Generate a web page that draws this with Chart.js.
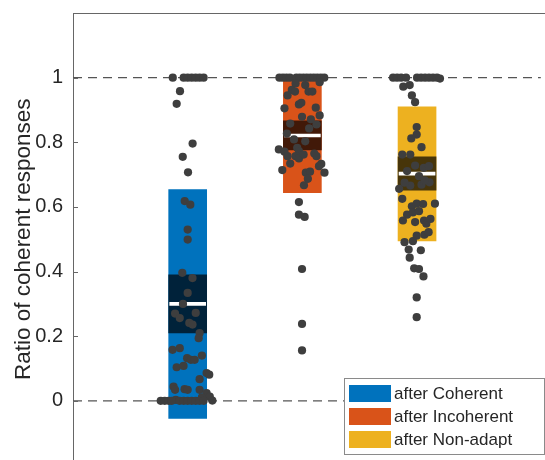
<!DOCTYPE html>
<html>
<head>
<meta charset="utf-8">
<script src="https://cdn.jsdelivr.net/npm/chart.js@4.4.1/dist/chart.umd.min.js"></script>
<style>
  html, body { margin: 0; padding: 0; overflow: hidden; background: #fff; }
  #wrap { position: relative; width: 545px; height: 470px; }
</style>
</head>
<body>
<div id="wrap"><canvas id="chart" width="545" height="470"></canvas></div>
<script>
// groups
const groupNames = ['after Coherent', 'after Incoherent', 'after Non-adapt'];
const groupPos = [1, 2, 3];
const boxColors = ['#0072BD', '#D95319', '#EDB120'];
const bandColors = ['#00223a', '#411908', '#47350a'];

// box = outer range, band = inner dark range, white line = median
const boxLow = [-0.054, 0.644, 0.495];
const boxHigh = [0.654, 1.0, 0.910];
const bandLow = [0.210, 0.776, 0.652];
const bandHigh = [0.390, 0.866, 0.755];
const medians = [0.300, 0.821, 0.703];

const refLevels = [0, 1];
const yTicks = [0, 0.2, 0.4, 0.6, 0.8, 1];
const xMin = 0, xMax = 4.08;

// individual responses (y) and horizontal jitter (x offset from group position)
const cohY = [1, 1, 1, 1, 1, 1, 1,
  0.958, 0.919, 0.796, 0.755, 0.707, 0.618, 0.607, 0.530, 0.499, 0.396, 0.380, 0.334, 0.300,
  0.270, 0.256, 0.272, 0.241, 0.236, 0.210, 0.194, 0.158, 0.163, 0.132, 0.127, 0.127, 0.140,
  0.104, 0.108, 0.067, 0.086, 0.081, 0.044, 0.034, 0.036, 0.034, 0.034, 0.024, 0.013, 0.001, 0.011, 0.003,
  0, 0, 0, 0, 0, 0, 0, 0, 0, 0, 0];
const cohJitter = [-0.130, -0.035, 0, 0.035, 0.070, 0.104, 0.139,
  -0.067, -0.096, 0.043, -0.043, 0.003, -0.026, 0.023, 0, 0, -0.047, 0.042, 0, -0.041,
  -0.110, -0.069, 0.070, 0.014, 0.042, 0.104, 0.096, -0.132, -0.069, -0.005, 0.028, 0.061, 0.124,
  -0.096, -0.036, 0.104, 0.165, 0.188, -0.123, -0.110, -0.027, 0, 0.104, 0.165, 0.193, 0.215, 0.124, -0.104,
  -0.235, -0.200, -0.165, -0.139, -0.070, -0.035, 0, 0.035, 0.070, 0.104, 0.139];

const incY = [1, 1, 1, 1, 1, 1, 1, 1, 1, 1, 1, 1, 1,
  0.982, 0.977, 0.986, 0.962, 0.957, 0.957, 0.957, 0.945,
  0.917, 0.922, 0.905, 0.907, 0.883, 0.879, 0.871, 0.858,
  0.843, 0.855, 0.827, 0.809, 0.803, 0.778, 0.771, 0.757,
  0.734, 0.783, 0.773, 0.757, 0.750, 0.762, 0.765, 0.757,
  0.733, 0.726, 0.706, 0.714, 0.706, 0.709, 0.687, 0.667,
  0.615, 0.576, 0.569, 0.408, 0.238, 0.156];
const incJitter = [-0.200, -0.169, -0.139, -0.109, -0.052, -0.022, 0.009, 0.039, 0.070, 0.100, 0.130, 0.161, 0.191,
  -0.059, 0.025, 0.151, -0.092, -0.064, 0.054, 0.087, -0.129,
  -0.030, -0.009, -0.156, 0.117, 0.151, -0.003, 0.074, -0.106,
  0.059, 0.123, -0.135, -0.073, 0.025, -0.205, -0.156, -0.129,
  -0.106, -0.045, -0.030, -0.059, -0.030, 0.011, 0.104, 0.123,
  0.165, 0.145, 0.193, -0.175, 0.030, 0.067, 0.048, 0.014,
  -0.030, -0.030, 0.020, -0.003, -0.003, -0.003];

const nonY = [1, 1, 1, 1, 1, 1, 1, 1, 1, 1, 0.997,
  0.972, 0.977, 0.945, 0.924, 0.847, 0.824, 0.812, 0.785,
  0.762, 0.762, 0.728, 0.721, 0.726, 0.711, 0.695, 0.666,
  0.669, 0.676, 0.656, 0.625, 0.602, 0.610, 0.609, 0.610,
  0.576, 0.583, 0.587, 0.558, 0.553, 0.558, 0.548, 0.563,
  0.514, 0.522, 0.511, 0.491, 0.494, 0.468, 0.466, 0.443,
  0.410, 0.408, 0.385, 0.320, 0.259, 0.675, 0.682];
const nonJitter = [-0.209, -0.174, -0.139, -0.096, 0, 0.035, 0.070, 0.104, 0.139, 0.174, 0.200,
  -0.120, -0.064, -0.045, -0.017, -0.003, -0.003, -0.050, 0.039,
  -0.129, -0.059, -0.017, 0.059, 0.104, -0.087, 0.017, -0.059,
  0.039, 0.109, -0.156, -0.129, -0.045, -0.003, 0.053, 0.156,
  -0.087, -0.036, 0.017, -0.123, -0.017, 0.061, 0.081, 0.117,
  0.064, 0.101, -0.003, -0.109, -0.036, -0.073, 0.033, -0.064,
  -0.025, 0.017, 0.056, -0.003, -0.003, -0.109, 0.067];

const pointsY = [cohY, incY, nonY];
const pointsJitter = [cohJitter, incJitter, nonJitter];

const FONT = "'Liberation Sans', Arial, Helvetica, sans-serif";

// top border, short inner ticks, legend box
const extras = {
    id: 'extras',
    afterDatasetsDraw(chart) {
        const ctx = chart.ctx;
        const y = chart.scales.y;
        const area = chart.chartArea;
        ctx.save();
        ctx.strokeStyle = '#666';
        ctx.lineWidth = 1;
        ctx.beginPath();
        ctx.moveTo(area.left, Math.round(area.top) + 0.5);
        ctx.lineTo(chart.width, Math.round(area.top) + 0.5);
        ctx.stroke();
        yTicks.forEach(v => {
            const py = Math.round(y.getPixelForValue(v)) + 0.5;
            ctx.beginPath();
            ctx.moveTo(area.left, py);
            ctx.lineTo(area.left + 5, py);
            ctx.stroke();
        });
        ctx.restore();
    },
    afterDraw(chart) {
        const ctx = chart.ctx;
        const bx = 344.5, by = 378.5, bw = 200, bh = 76;
        ctx.save();
        ctx.fillStyle = '#fff';
        ctx.fillRect(bx, by, bw, bh);
        ctx.strokeStyle = '#8a8a8a';
        ctx.lineWidth = 1;
        ctx.strokeRect(bx, by, bw, bh);
        ctx.font = '17px ' + FONT;
        ctx.textBaseline = 'middle';
        groupNames.forEach((name, i) => {
            const top = 385 + i * 23;
            ctx.fillStyle = boxColors[i];
            ctx.fillRect(349, top, 42, 17);
            ctx.fillStyle = '#262626';
            ctx.fillText(name, 394, top + 9);
        });
        ctx.restore();
    }
};

const datasets = [];

refLevels.forEach(lvl => {
    datasets.push({
        type: 'line',
        data: [{ x: xMin, y: lvl }, { x: xMax, y: lvl }],
        borderColor: '#555',
        borderWidth: 1.1,
        borderDash: [9, 6],
        pointRadius: 0,
        order: 5
    });
});

datasets.push({
    type: 'bar',
    data: groupPos.map((g, i) => ({ x: g, y: [boxLow[i], boxHigh[i]] })),
    backgroundColor: boxColors,
    barThickness: 38,
    grouped: false,
    order: 4
});
datasets.push({
    type: 'bar',
    data: groupPos.map((g, i) => ({ x: g, y: [bandLow[i], bandHigh[i]] })),
    backgroundColor: bandColors,
    barThickness: 38,
    grouped: false,
    order: 3
});
datasets.push({
    type: 'bar',
    data: groupPos.map((g, i) => ({ x: g, y: [medians[i] - 0.0047, medians[i] + 0.0047] })),
    backgroundColor: '#ffffff',
    barThickness: 36,
    grouped: false,
    order: 2
});

pointsY.forEach((ys, g) => {
    datasets.push({
        type: 'scatter',
        data: ys.map((v, i) => ({ x: groupPos[g] + pointsJitter[g][i], y: v })),
        backgroundColor: '#3e3e3e',
        borderWidth: 0,
        pointRadius: 4.1,
        order: 1
    });
});

new Chart(document.getElementById('chart'), {
    data: { datasets: datasets },
    options: {
        responsive: false,
        animation: false,
        devicePixelRatio: 1,
        layout: { padding: { top: 13, bottom: 4.5, left: 0, right: 0 } },
        plugins: {
            legend: { display: false },
            tooltip: { enabled: false }
        },
        scales: {
            x: {
                type: 'linear',
                display: false,
                offset: false,
                min: xMin,
                max: xMax,
                grid: { offset: false }
            },
            y: {
                type: 'linear',
                min: -0.2,
                max: 1.2,
                ticks: {
                    stepSize: 0.2,
                    padding: 10,
                    color: '#262626',
                    font: { family: FONT, size: 20 },
                    callback: v => (v < -1e-6 || v > 1 + 1e-6) ? '' : String(+v.toFixed(1))
                },
                grid: { drawOnChartArea: false, drawTicks: false },
                border: { display: true, color: '#666', width: 1 },
                title: {
                    display: true,
                    text: 'Ratio of coherent responses',
                    color: '#262626',
                    font: { family: FONT, size: 22.5 },
                    padding: { top: 10, bottom: 0 }
                },
                afterFit: scale => {
                    scale.width = 73;
                    scale.paddingTop = 0;
                    scale.paddingBottom = 0;
                }
            }
        }
    },
    plugins: [extras]
});
</script>
</body>
</html>
